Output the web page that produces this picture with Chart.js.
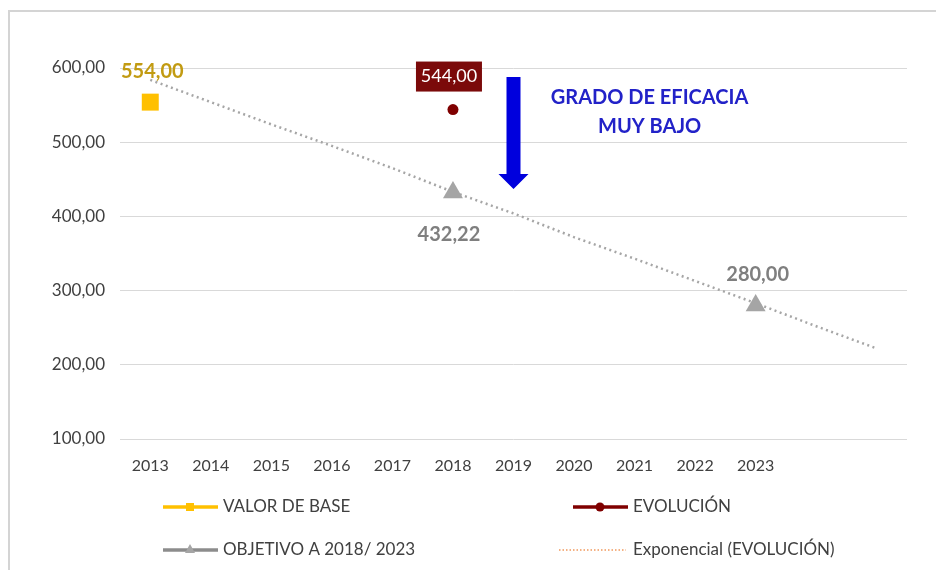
<!DOCTYPE html>
<html>
<head>
<meta charset="utf-8">
<script src="https://cdn.jsdelivr.net/npm/chart.js@4.4.1/dist/chart.umd.min.js"></script>
<style>
  html, body { margin: 0; padding: 0; background: #ffffff; }
  #wrap { width: 936px; height: 570px; position: relative; }
</style>
</head>
<body>
<div id="wrap"><canvas id="c" width="936" height="570"></canvas></div>
<script>
const categories = ['2013','2014','2015','2016','2017','2018','2019','2020','2021','2022','2023','',''];
const valorBase  = [554, null, null, null, null, null, null, null, null, null, null, null, null];
const evolucion  = [null, null, null, null, null, 544, null, null, null, null, null, null, null];
const objetivo   = [null, null, null, null, null, 432.22, null, null, null, null, 280, null, null];
const tendencia  = [584, 554, 524, 495, 465, 433, 404, 372, 343, 313, 283, 252, 222];
const yTicks     = [100, 200, 300, 400, 500, 600];
const seriesNames = ['VALOR DE BASE', 'EVOLUCIÓN', 'OBJETIVO A 2018/ 2023', 'Exponencial (EVOLUCIÓN)'];
const arrowRange = [588, 437];          // arrow from / to (value axis), at 2019
const noteLines  = ['GRADO DE EFICACIA', 'MUY BAJO'];
const noteValues = [560, 521];

const FONT = 'Lato, "Open Sans", sans-serif';
const fmt = v => v.toFixed(2).replace('.', ',');

const annot = {
  id: 'annot',
  beforeDraw(chart) {
    const ctx = chart.ctx;
    ctx.save();
    ctx.fillStyle = '#ffffff';
    ctx.fillRect(0, 0, chart.width, chart.height);
    ctx.strokeStyle = '#D4D4D4';
    ctx.lineWidth = 2;
    ctx.beginPath();
    ctx.moveTo(9, 570);
    ctx.lineTo(9, 11);
    ctx.lineTo(936, 11);
    ctx.stroke();
    ctx.restore();
  },
  afterDatasetsDraw(chart) {
    const ctx = chart.ctx;
    const xs = chart.scales.x, ys = chart.scales.y;
    ctx.save();
    ctx.textAlign = 'center';
    ctx.textBaseline = 'middle';

    // VALOR DE BASE label
    let p = chart.getDatasetMeta(1).data[0];
    ctx.font = 'bold 20px ' + FONT;
    ctx.fillStyle = '#C29B12';
    ctx.fillText(fmt(valorBase[0]), p.x + 2, p.y - 31);

    // EVOLUCION label (boxed)
    p = chart.getDatasetMeta(2).data[5];
    ctx.fillStyle = '#7B0A0A';
    ctx.fillRect(p.x - 37, p.y - 48, 66, 30);
    ctx.font = '18px ' + FONT;
    ctx.fillStyle = '#ffffff';
    ctx.fillText(fmt(evolucion[5]), p.x - 4, p.y - 33);

    // OBJETIVO labels
    ctx.font = 'bold 20px ' + FONT;
    ctx.fillStyle = '#7F7F7F';
    p = chart.getDatasetMeta(3).data[5];
    ctx.fillText(fmt(objetivo[5]), p.x - 4, p.y + 42);
    p = chart.getDatasetMeta(3).data[10];
    ctx.fillText(fmt(objetivo[10]), p.x + 2, p.y - 31);

    // Arrow
    const ax = xs.getPixelForValue(6);
    const y0 = ys.getPixelForValue(arrowRange[0]);
    const y1 = ys.getPixelForValue(arrowRange[1]);
    ctx.fillStyle = '#0000DD';
    ctx.beginPath();
    ctx.moveTo(ax - 7, y0);
    ctx.lineTo(ax + 7, y0);
    ctx.lineTo(ax + 7, y1 - 15);
    ctx.lineTo(ax + 15, y1 - 15);
    ctx.lineTo(ax, y1);
    ctx.lineTo(ax - 15, y1 - 15);
    ctx.lineTo(ax - 7, y1 - 15);
    ctx.closePath();
    ctx.fill();

    // Note
    const nx = xs.getPixelForValue(8) + 15;
    ctx.font = 'bold 20px ' + FONT;
    ctx.fillStyle = '#2222C8';
    noteLines.forEach((t, i) => ctx.fillText(t, nx, ys.getPixelForValue(noteValues[i])));

    // Legend
    ctx.textAlign = 'left';
    ctx.font = '17px ' + FONT;
    const items = [
      {x: 163, y: 507, color: '#FFC000', marker: 'rect', name: seriesNames[0]},
      {x: 573, y: 507, color: '#7F0000', marker: 'circle', name: seriesNames[1]},
      {x: 163, y: 550, color: '#8C8C8C', marker: 'triangle', name: seriesNames[2]},
      {x: 573, y: 550, color: '#F4B183', marker: 'dots', name: seriesNames[3]}
    ];
    items.forEach(it => {
      ctx.strokeStyle = it.color;
      if (it.marker === 'dots') {
        ctx.lineWidth = 2;
        ctx.setLineDash([1.5, 2]);
        ctx.beginPath(); ctx.moveTo(it.x - 14, it.y); ctx.lineTo(it.x + 53, it.y); ctx.stroke();
        ctx.setLineDash([]);
      } else {
        ctx.lineWidth = 3.5;
        ctx.beginPath(); ctx.moveTo(it.x, it.y); ctx.lineTo(it.x + 55, it.y); ctx.stroke();
        const cx = it.x + 27;
        if (it.marker === 'rect') { ctx.fillStyle = it.color; ctx.fillRect(cx - 4, it.y - 4, 8, 8); }
        if (it.marker === 'circle') { ctx.fillStyle = it.color; ctx.beginPath(); ctx.arc(cx, it.y, 4.5, 0, Math.PI * 2); ctx.fill(); }
        if (it.marker === 'triangle') {
          ctx.fillStyle = '#A5A5A5';
          ctx.beginPath(); ctx.moveTo(cx, it.y - 6); ctx.lineTo(cx + 5, it.y + 3); ctx.lineTo(cx - 5, it.y + 3); ctx.closePath(); ctx.fill();
        }
      }
      ctx.fillStyle = '#404040';
      ctx.textBaseline = 'middle';
      ctx.fillText(it.name, it.x + 60, it.y);
    });
    ctx.restore();
  }
};

new Chart(document.getElementById('c'), {
  type: 'line',
  data: {
    labels: categories,
    datasets: [
      { label: seriesNames[3], data: tendencia, borderColor: '#A6A6A6', borderWidth: 2.5,
        borderDash: [2, 3.5], pointRadius: 0, fill: false, tension: 0, order: 5 },
      { label: seriesNames[0], data: valorBase, showLine: false, pointStyle: 'rect',
        pointRadius: 12, backgroundColor: '#FFC000', borderColor: '#FFC000', borderWidth: 0 },
      { label: seriesNames[1], data: evolucion, showLine: false, pointStyle: 'circle',
        pointRadius: 5.5, backgroundColor: '#7F0000', borderColor: '#7F0000', borderWidth: 0 },
      { label: seriesNames[2], data: objetivo, showLine: false, pointStyle: 'triangle',
        pointRadius: 11.5, backgroundColor: '#A5A5A5', borderColor: '#A5A5A5', borderWidth: 0 }
    ]
  },
  options: {
    responsive: false,
    animation: false,
    events: [],
    layout: { padding: { left: 0, right: 29, top: 68, bottom: 0 } },
    plugins: { legend: { display: false }, tooltip: { enabled: false } },
    scales: {
      x: {
        offset: true,
        grid: { display: false },
        border: { display: false },
        ticks: { color: '#404040', font: { family: FONT, size: 16 }, padding: 9, maxRotation: 0, autoSkip: false },
        afterFit(s) { s.height = 131; }
      },
      y: {
        min: 100, max: 600,
        afterBuildTicks(s) { s.ticks = yTicks.map(v => ({ value: v })); },
        grid: { color: '#D9D9D9', lineWidth: 1, drawTicks: false },
        border: { display: false },
        ticks: { color: '#404040', font: { family: FONT, size: 17 }, padding: 15, callback: v => fmt(v) },
        afterFit(s) { s.width = 120; }
      }
    }
  },
  plugins: [annot]
});
</script>
</body>
</html>
